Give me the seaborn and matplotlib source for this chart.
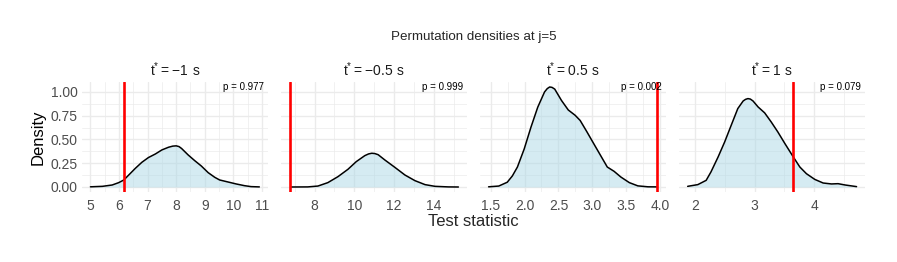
import numpy as np
import pandas as pd
import matplotlib
matplotlib.use("Agg")
import matplotlib.pyplot as plt
import seaborn as sns
from matplotlib.ticker import MultipleLocator

sns.set_theme(style="whitegrid")
plt.rcParams['font.family'] = ['Liberation Sans', 'DejaVu Sans']
plt.rcParams['mathtext.default'] = 'regular'

# ---- data ----
titles = [r"$t^{*} = -1\ s$", r"$t^{*} = -0.5\ s$", r"$t^{*} = 0.5\ s$", r"$t^{*} = 1\ s$"]
p_labels = ["p = 0.977", "p = 0.999", "p = 0.002", "p = 0.079"]
observed = [6.17, 6.74, 3.95, 3.64]

x1 = [5.0, 5.42, 5.76, 5.99, 6.17, 6.34, 6.57, 6.80, 7.03, 7.27, 7.50, 7.73, 7.88, 8.0, 8.1, 8.19, 8.42, 8.65, 8.88, 9.12, 9.35, 9.52, 9.81, 10.10, 10.39, 10.62, 10.91]
d1 = [0.002, 0.007, 0.021, 0.046, 0.074, 0.126, 0.196, 0.26, 0.31, 0.347, 0.39, 0.418, 0.43, 0.433, 0.425, 0.405, 0.337, 0.277, 0.221, 0.151, 0.102, 0.074, 0.053, 0.032, 0.014, 0.004, 0.001]

x2 = [6.82, 7.66, 8.17, 8.67, 9.18, 9.68, 10.10, 10.53, 10.72, 10.88, 11.03, 11.20, 11.54, 12.04, 12.55, 13.05, 13.56, 14.06, 14.73, 15.24]
d2 = [0.0, 0.001, 0.01, 0.046, 0.109, 0.186, 0.267, 0.33, 0.348, 0.355, 0.352, 0.34, 0.284, 0.207, 0.126, 0.067, 0.025, 0.007, 0.001, 0.0]

x3 = [1.47, 1.62, 1.745, 1.82, 1.895, 1.995, 2.095, 2.195, 2.295, 2.335, 2.37, 2.405, 2.445, 2.545, 2.645, 2.745, 2.82, 2.92, 3.02, 3.12, 3.22, 3.32, 3.42, 3.545, 3.67, 3.82, 3.96]
d3 = [0.002, 0.01, 0.05, 0.116, 0.21, 0.40, 0.63, 0.84, 1.0, 1.035, 1.052, 1.048, 1.03, 0.91, 0.81, 0.755, 0.70, 0.58, 0.456, 0.333, 0.21, 0.165, 0.105, 0.046, 0.012, 0.002, 0.001]

x4 = [1.88, 2.05, 2.19, 2.27, 2.39, 2.50, 2.61, 2.72, 2.81, 2.85, 2.89, 2.93, 2.975, 3.06, 3.17, 3.28, 3.39, 3.51, 3.65, 3.76, 3.87, 4.01, 4.15, 4.29, 4.40, 4.52, 4.71]
d4 = [0.007, 0.025, 0.07, 0.158, 0.316, 0.474, 0.65, 0.825, 0.905, 0.922, 0.93, 0.925, 0.905, 0.842, 0.78, 0.684, 0.58, 0.456, 0.316, 0.21, 0.14, 0.08, 0.042, 0.032, 0.035, 0.021, 0.004]

xs = [x1, x2, x3, x4]
ds = [d1, d2, d3, d4]
xmajor = [1.0, 2.0, 0.5, 1.0]

W, H = 897, 262
fig = plt.figure(figsize=(W / 100, H / 100), dpi=100)

left0, right_end, gap = 82, 865, 13.3
pw = (right_end - left0 - 3 * gap) / 4
top_px, bot_px = 82, 192
grid_c = "#EBEBEB"
ymax_data = max(max(d) for d in ds)
ylo, yhi = -0.05 * ymax_data, ymax_data * 1.05

axes = []
for i in range(4):
    lpx = left0 + i * (pw + gap)
    ax = fig.add_axes([lpx / W, 1 - bot_px / H, pw / W, (bot_px - top_px) / H])
    axes.append(ax)
    df = pd.DataFrame({"x": xs[i], "density": ds[i]})
    ax.fill_between(df["x"], df["density"], color="lightblue", alpha=0.5, lw=0, zorder=2)
    sns.lineplot(data=df, x="x", y="density", ax=ax, color="black", lw=1.1, zorder=3)
    ax.axvline(observed[i], color="red", lw=1.9, zorder=4)
    lo = min(min(xs[i]), observed[i])
    hi = max(max(xs[i]), observed[i])
    r = hi - lo
    ax.set_xlim(lo - 0.05 * r, hi + 0.05 * r)
    ax.set_ylim(ylo, yhi)
    ax.xaxis.set_major_locator(MultipleLocator(xmajor[i]))
    ax.xaxis.set_minor_locator(MultipleLocator(xmajor[i] / 2))
    ax.yaxis.set_major_locator(MultipleLocator(0.25))
    ax.yaxis.set_minor_locator(MultipleLocator(0.125))
    ax.set_facecolor("white")
    ax.grid(which="major", color=grid_c, lw=1.0, zorder=0)
    ax.grid(which="minor", color=grid_c, lw=0.5, zorder=0)
    for s in ax.spines.values():
        s.set_visible(False)
    ax.tick_params(axis="y", which="both", length=0, labelsize=10, colors="#4D4D4D", pad=3)
    ax.tick_params(axis="x", which="both", length=0, labelsize=10, colors="#4D4D4D", pad=5)
    if i == 0:
        ax.yaxis.set_major_formatter(matplotlib.ticker.FormatStrFormatter("%.2f"))
        ax.set_ylabel("Density", fontsize=12, color="black", labelpad=4)
    else:
        ax.set_yticklabels([])
        ax.set_ylabel("")
    if i == 2:
        ax.xaxis.set_major_formatter(matplotlib.ticker.FormatStrFormatter("%.1f"))
    ax.set_xlabel("")
    ax.set_title(titles[i], fontsize=10, color="#1A1A1A", pad=4)
    ax.text(1 - 4 / pw, 0.957, p_labels[i], transform=ax.transAxes, ha="right", va="center",
            fontsize=7, color="black", zorder=5)

fig.text(473.5 / W, 1 - 221 / H, "Test statistic", ha="center", va="center", fontsize=12)
fig.text(473.5 / W, 1 - 36.7 / H, "Permutation densities at j=5", ha="center", va="center", fontsize=9.6)

fig.savefig("out.png", dpi=100, facecolor="white")
